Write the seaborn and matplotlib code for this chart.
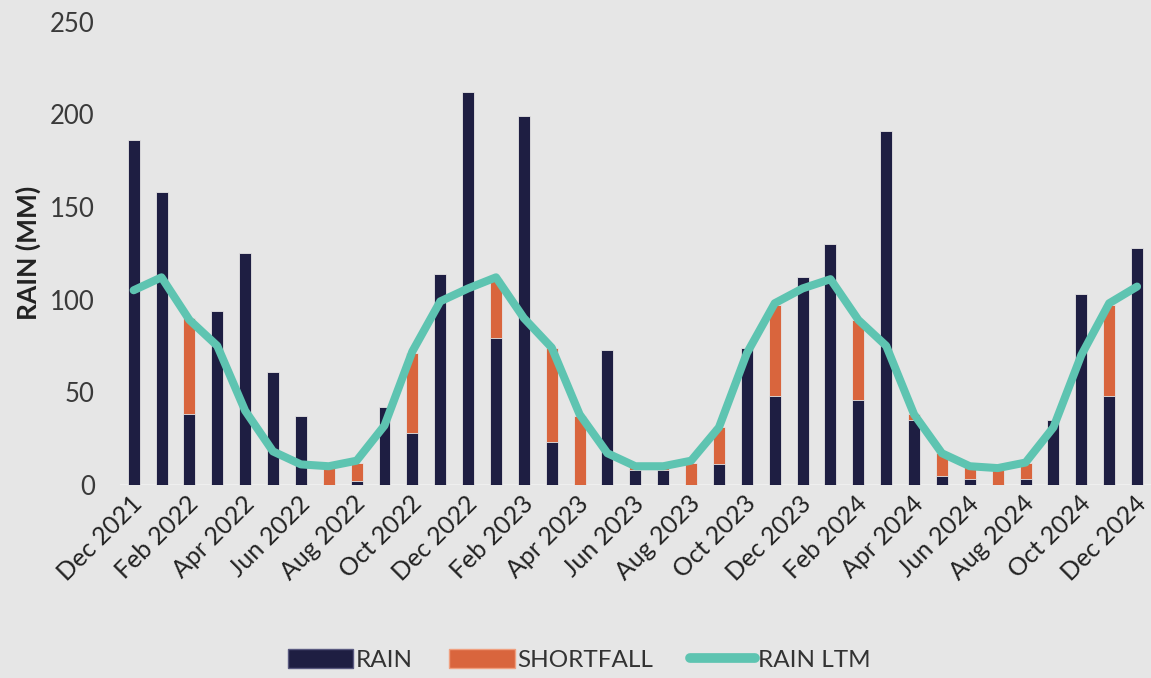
import numpy as np
import pandas as pd
import matplotlib.pyplot as plt
import matplotlib.transforms as mtrans
import seaborn as sns
from matplotlib.patches import Patch
from matplotlib.lines import Line2D

# monthly data, Dec 2021 - Dec 2024
months = pd.date_range("2021-12-01", "2024-12-01", freq="MS").strftime("%b %Y").tolist()

rain = [186, 158, 38, 94, 125, 61, 37, 0, 2, 42, 28, 114, 212,
        79, 199, 23, 0, 73, 8, 8, 0, 11, 74, 48, 112,
        130, 46, 191, 35, 5, 3, 0, 3, 35, 103, 48, 128]

shortfall = [0, 0, 52, 0, 0, 0, 0, 10, 10, 0, 43, 0, 0,
             32, 0, 51, 37, 0, 2, 2, 12, 20, 0, 49, 0,
             0, 43, 0, 3, 12, 7, 9, 9, 0, 0, 49, 0]

rain_ltm = [105, 112, 89, 75, 40, 18, 11, 10, 13, 32, 72, 99, 106,
            112, 90, 74, 38, 17, 10, 10, 13, 31, 71, 98, 106,
            111, 89, 75, 38, 17, 10, 9, 12, 31, 70, 98, 107]

df = pd.DataFrame({"month": months, "rain": rain, "shortfall": shortfall, "ltm": rain_ltm})
df["total"] = df["rain"] + df["shortfall"]
df["pos"] = np.arange(len(df))

navy = "#1e1e42"
orange = "#d9653d"
teal = "#5ec4b1"
bg = "#e6e6e6"

sns.set_theme(style="white")
plt.rcParams["font.family"] = ["Lato", "DejaVu Sans"]

fig = plt.figure(figsize=(11.51, 6.78), dpi=100, facecolor=bg)
ax = fig.add_axes([0.104, 0.285, 0.896, 0.683])
ax.set_facecolor(bg)

# stacked bars: shortfall sits on top of rain
sns.barplot(data=df, x="month", y="total", color=orange, width=0.43,
            saturation=1, ax=ax, edgecolor=bg, linewidth=0.6)
sns.barplot(data=df, x="month", y="rain", color=navy, width=0.43,
            saturation=1, ax=ax, edgecolor=bg, linewidth=0.6)
sns.lineplot(x=df["pos"], y=df["ltm"], color=teal, linewidth=5.8, ax=ax,
             solid_capstyle="round", solid_joinstyle="round")

ax.set_xlim(-0.5, len(df) - 0.5)
ax.set_ylim(0, 250)
ax.set_yticks(range(0, 251, 50))
ax.tick_params(axis="y", labelsize=18.5, labelcolor="#3a3a3a", length=0, pad=18)
ax.set_xticks(df["pos"][::2])
ax.set_xticklabels(df["month"][::2], rotation=45, ha="right",
                   rotation_mode="anchor", fontsize=18, color="#222222")
ax.tick_params(axis="x", length=0, pad=5)
shift = mtrans.ScaledTranslation(-0.03, 0, fig.dpi_scale_trans)
for lab in ax.get_xticklabels():
    lab.set_transform(lab.get_transform() + shift)
ax.set_xlabel("")
ax.set_ylabel("RAIN (MM)", fontsize=19, fontweight="bold", color="#222222", labelpad=6)
for s in ax.spines.values():
    s.set_visible(False)
ax.axhline(0, color="#f2f2f2", linewidth=1.2, zorder=0)

handles = [Patch(facecolor=navy, edgecolor="#5a5a80"),
           Patch(facecolor=orange, edgecolor="#f0a080"),
           Line2D([0], [0], color=teal, linewidth=7, solid_capstyle="round")]
fig.legend(handles, ["RAIN", "SHORTFALL", "RAIN LTM"], loc="lower center",
           bbox_to_anchor=(0.503, -0.022), ncol=3, frameon=False, fontsize=17.5,
           handlelength=2.7, handleheight=0.8, handletextpad=0.1, columnspacing=1.5,
           labelcolor="#333333")

fig.savefig("out.png", dpi=100, facecolor=bg)
